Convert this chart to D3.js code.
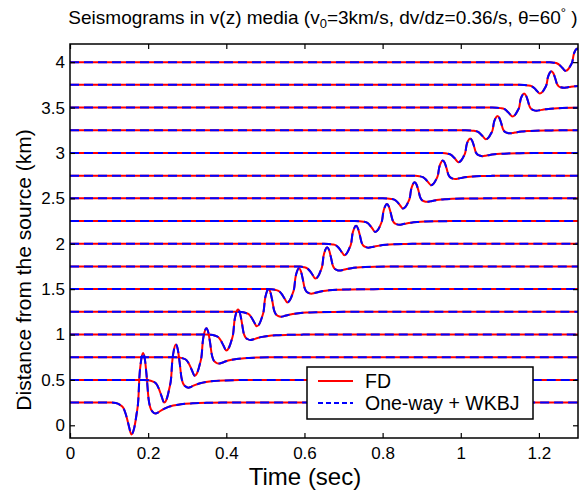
<!DOCTYPE html>
<html>
<head>
<meta charset="utf-8">
<style>
body { margin: 0; background: #fff; }
text { font-family: 'Liberation Sans', Arial, sans-serif; fill: #000; }
</style>
</head>
<body>
<svg></svg>
<script src="https://d3js.org/d3.v7.min.js"></script>
<script>

// distance of each trace (km) and time of its main peak (s)
const offsets = [0.25, 0.5, 0.75, 1.0, 1.25, 1.5, 1.75, 2.0, 2.25, 2.5, 2.75, 3.0, 3.25, 3.5, 3.75, 4.0];
const peakTimes = [0.187, 0.271, 0.349, 0.430, 0.508, 0.586, 0.658, 0.732, 0.811, 0.882, 0.954, 1.024, 1.094, 1.162, 1.232, 1.298];
const peakAmps = [0.547, 0.39, 0.32, 0.276, 0.25, 0.23, 0.21, 0.197, 0.187, 0.176, 0.166, 0.16, 0.156, 0.155, 0.15, 0.15];

// pulse shape, time relative to the peak and amplitude relative to the peak
const waveletT = [-0.082, -0.070, -0.060, -0.051, -0.044, -0.037, -0.030, -0.023, -0.017, -0.012, -0.0095, -0.005, 0,
    0.005, 0.0095, 0.014, 0.018, 0.024, 0.032, 0.040, 0.050, 0.062, 0.077, 0.097, 0.127, 0.167, 0.212];
const waveletA = [0, -0.01, -0.04, -0.10, -0.24, -0.45, -0.64, -0.52, -0.25, 0.08, 0.50, 0.85, 1.0,
    0.85, 0.50, 0.08, -0.09, -0.18, -0.22, -0.19, -0.14, -0.095, -0.06, -0.032, -0.014, -0.004, 0];

const xTicks = [0, 0.2, 0.4, 0.6, 0.8, 1, 1.2];
const yTicks = [0, 0.5, 1, 1.5, 2, 2.5, 3, 3.5, 4];

const fullWidth = 581;
const fullHeight = 490;
const margin = {top: 44, right: 3, bottom: 52, left: 70};
const width = fullWidth - margin.left - margin.right;
const height = fullHeight - margin.top - margin.bottom;

const x = d3.scaleLinear().domain([0, 1.3]).range([0, width]);
const y = d3.scaleLinear().domain([-0.14, 4.2]).range([height, 0]);

const svg = d3.select('svg')
    .attr('width', fullWidth)
    .attr('height', fullHeight);

svg.append('defs').append('clipPath')
    .attr('id', 'plot-area')
    .append('rect')
    .attr('width', width)
    .attr('height', height);

const g = svg.append('g')
    .attr('transform', `translate(${margin.left}, ${margin.top})`);

const traces = offsets.map((off, i) => {
    const pts = [[0, off]];
    waveletT.forEach((dt, j) => pts.push([peakTimes[i] + dt, off + peakAmps[i] * waveletA[j]]));
    pts.push([1.4, off]);
    return pts;
});

const line = d3.line()
    .x(d => x(d[0]))
    .y(d => y(d[1]))
    .curve(d3.curveMonotoneX);

const traceG = g.append('g').attr('clip-path', 'url(#plot-area)');

traceG.selectAll('.fd').data(traces)
    .enter().append('path')
    .attr('class', 'fd')
    .attr('fill', 'none')
    .attr('stroke', '#ff0000')
    .attr('stroke-width', 2)
    .attr('d', line);

traceG.selectAll('.wkbj').data(traces)
    .enter().append('path')
    .attr('class', 'wkbj')
    .attr('fill', 'none')
    .attr('stroke', '#0000ff')
    .attr('stroke-width', 2)
    .attr('stroke-dasharray', '9,5')
    .attr('d', line);

// axes, ticks pointing inwards on all four sides
g.append('g')
    .attr('transform', `translate(0, ${height})`)
    .call(d3.axisBottom(x).tickValues(xTicks).tickSize(-5).tickPadding(9).tickFormat(d => String(d)));
g.append('g')
    .call(d3.axisTop(x).tickValues(xTicks).tickSize(-5).tickFormat(''));
g.append('g')
    .call(d3.axisLeft(y).tickValues(yTicks).tickSize(-5).tickPadding(5).tickFormat(d => String(d)));
g.append('g')
    .attr('transform', `translate(${width}, 0)`)
    .call(d3.axisRight(y).tickValues(yTicks).tickSize(-5).tickFormat(''));

g.selectAll('.domain').remove();
g.selectAll('.tick line').attr('stroke', '#000').attr('stroke-width', 1.2);
g.selectAll('.tick text')
    .style('font-family', "'Liberation Sans', Arial, sans-serif")
    .style('font-size', '17px')
    .attr('fill', '#000');

g.append('rect')
    .attr('width', width)
    .attr('height', height)
    .attr('fill', 'none')
    .attr('stroke', '#000')
    .attr('stroke-width', 1.5);

// labels
svg.append('text')
    .attr('x', 305)
    .attr('y', 485)
    .attr('text-anchor', 'middle')
    .style('font-size', '24px')
    .text('Time (sec)');

svg.append('text')
    .attr('transform', 'translate(31, 270) rotate(-90)')
    .attr('text-anchor', 'middle')
    .style('font-size', '21px')
    .text('Distance from the source (km)');

const title = svg.append('text')
    .attr('x', 323)
    .attr('y', 24)
    .attr('text-anchor', 'middle')
    .style('font-size', '19px');
title.append('tspan').text('Seismograms in v(z) media (v');
title.append('tspan').attr('dy', 4).style('font-size', '13px').text('0');
title.append('tspan').attr('dy', -4).text('=3km/s, dv/dz=0.36/s, \u03b8=60');
title.append('tspan').attr('dy', -7).style('font-size', '13px').text('\u00b0');
title.append('tspan').attr('dy', 7).text(' )');

// legend
const legend = svg.append('g').attr('transform', 'translate(307, 367)');
legend.append('rect')
    .attr('width', 226)
    .attr('height', 52)
    .attr('fill', '#fff')
    .attr('stroke', '#000')
    .attr('stroke-width', 1.5);
legend.append('line')
    .attr('x1', 11).attr('x2', 46).attr('y1', 14).attr('y2', 14)
    .attr('stroke', '#ff0000').attr('stroke-width', 2);
legend.append('line')
    .attr('x1', 11).attr('x2', 46).attr('y1', 36).attr('y2', 36)
    .attr('stroke', '#0000ff').attr('stroke-width', 2).attr('stroke-dasharray', '5,3');
legend.append('text').attr('x', 58).attr('y', 21).style('font-size', '19.5px').text('FD');
legend.append('text').attr('x', 58).attr('y', 43).style('font-size', '19.5px').text('One-way + WKBJ');

</script>
</body>
</html>
